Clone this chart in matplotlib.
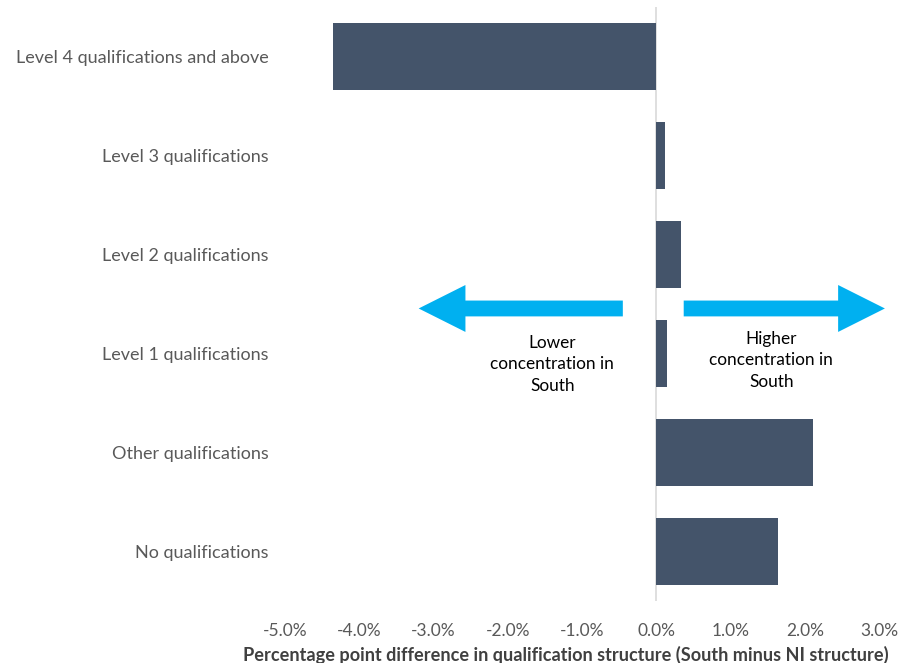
import matplotlib
matplotlib.use("Agg")
import matplotlib.pyplot as plt
from matplotlib.patches import Polygon

categories = ["Level 4 qualifications and above", "Level 3 qualifications",
              "Level 2 qualifications", "Level 1 qualifications",
              "Other qualifications", "No qualifications"]
values = [-4.35, 0.12, 0.33, 0.15, 2.11, 1.64]
xticks = [-5, -4, -3, -2, -1, 0, 1, 2, 3]
xtick_labels = ["-5.0%", "-4.0%", "-3.0%", "-2.0%", "-1.0%", "0.0%", "1.0%", "2.0%", "3.0%"]

FONT = ["Lato", "DejaVu Sans"]
plt.rcParams['font.family'] = FONT

fig = plt.figure(figsize=(8.98, 6.63), dpi=100)
ax = fig.add_axes([0.3174, 0.0935, 0.6614, 0.8959])

ypos = list(range(len(categories)))
ax.barh(ypos, values, height=0.67, color="#44546A", zorder=2)
ax.set_ylim(len(categories) - 0.5, -0.5)
ax.set_xlim(-5, 3)
ax.set_yticks(ypos)
ax.set_yticklabels(categories, fontsize=13, color="#595959")
ax.set_xticks(xticks)
ax.set_xticklabels(xtick_labels, fontsize=12.5, color="#595959")
ax.tick_params(length=0)
ax.tick_params(axis='y', pad=12)
ax.tick_params(axis='x', pad=16)
for s in ax.spines.values():
    s.set_visible(False)
ax.axvline(0, color="#D9D9D9", lw=1.2, zorder=1)
ax.set_xlabel("Percentage point difference in qualification structure (South minus NI structure)",
              fontsize=13.1, fontweight="bold", color="#404040")
ax.xaxis.set_label_coords(0.473, -0.076)

# arrows
ya = 2.545
sh = 0.08   # shaft half thickness
hh = 0.237  # head half height
hl = 0.63   # head length (in %)
arrow_col = "#00B0F0"

def arrow(x_tail, x_tip):
    d = 1 if x_tip > x_tail else -1
    xb = x_tip - d * hl
    pts = [(x_tail, ya - sh), (xb, ya - sh), (xb, ya - hh), (x_tip, ya),
           (xb, ya + hh), (xb, ya + sh), (x_tail, ya + sh)]
    ax.add_patch(Polygon(pts, closed=True, color=arrow_col, clip_on=False, zorder=3, lw=0))

arrow(-0.45, -3.2)
arrow(0.37, 3.08)

ax.text(-1.40, 3.11, "Lower\nconcentration in\nSouth", ha="center", va="center",
        fontsize=12.4, color="#000000", linespacing=1.45)
ax.text(1.55, 3.07, "Higher\nconcentration in\nSouth", ha="center", va="center",
        fontsize=12.4, color="#000000", linespacing=1.45)

fig.savefig("out.png", dpi=100)
